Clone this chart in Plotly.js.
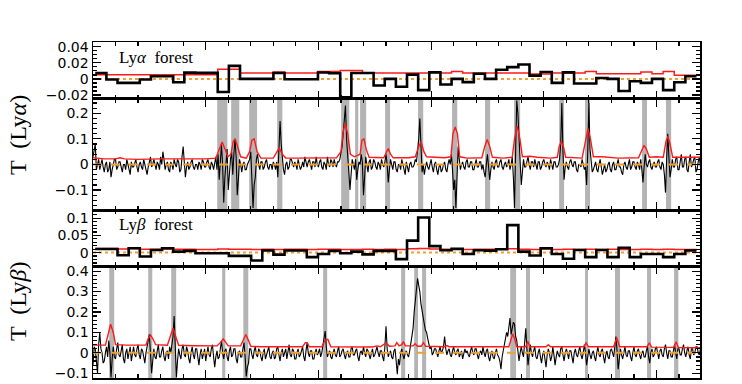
<!DOCTYPE html>
<html><head><meta charset="utf-8">
<script src="https://cdn.plot.ly/plotly-3.0.1.min.js"></script>
<style>html,body{margin:0;padding:0;background:#fff}#chart{width:742px;height:384px}</style>
</head><body><div id="chart"></div>
<script>
// ---- binned transmission (forest) panels ----
const BIN_START = 0.1, BIN_W = 0.494;
const lyaBinObs = [0.0073,-0.0008,-0.0049,-0.0049,-0.0008,0.0033,0.0033,-0.0041,0.0078,0.0075,
  0.0075,-0.0163,0.0163,0.0,0.0,0.0,0.0073,-0.0005,-0.0005,-0.0005,
  0.008,0.007,-0.023,0.0073,0.0073,-0.0082,0.0,-0.0098,0.0053,-0.0139,
  0.0082,-0.0069,0.0,-0.004,0.0065,0.0,0.0114,0.0147,0.018,0.0041,
  0.0086,-0.0049,0.0082,-0.0057,-0.0057,0.0012,0.0,-0.0151,-0.0029,-0.0049,
  0.0,-0.0139,-0.0041,0.0033];
const lyaBinModel = [0.0053,0.0053,0.0053,0.0053,0.0053,0.0053,0.0053,0.0053,0.0053,0.0053,
  0.0053,0.012,0.012,0.0073,0.0073,0.0073,0.0086,0.0073,0.0073,0.0073,
  0.0094,0.0094,0.0106,0.0106,0.0073,0.0073,0.0073,0.0073,0.0073,0.0073,
  0.008,0.0073,0.0094,0.0073,0.0073,0.0073,0.0073,0.0073,0.0073,0.006,
  0.006,0.0073,0.0073,0.0073,0.0094,0.0065,0.0065,0.0065,0.0065,0.0086,
  0.0065,0.0094,0.0045,0.0045];
const lybBinObs = [0.0106,0.0106,-0.0077,0.0125,-0.0115,0.0077,0.0125,0.003,0.005,-0.002,
  -0.002,-0.002,-0.0096,-0.0096,-0.023,0.006,-0.006,0.006,0.006,-0.013,
  -0.004,0.005,-0.002,0.003,-0.005,0.005,0.005,-0.019,0.035,0.102,
  0.019,0.007,0.011,-0.004,0.007,0.0058,0.0096,0.08,0.003,-0.0086,
  0.0125,-0.004,-0.018,0.0077,-0.013,0.0077,-0.013,0.014,-0.013,-0.004,
  -0.004,-0.013,-0.004,0.006];
const lybBinModel = [0.012,0.012,0.0105,0.012,0.01,0.01,0.0105,0.0095,0.0095,0.009,
  0.009,0.0105,0.01,0.0095,0.009,0.0095,0.009,0.0095,0.0095,0.009,
  0.0095,0.01,0.009,0.009,0.0095,0.009,0.0095,0.009,0.011,0.012,
  0.0105,0.0095,0.01,0.009,0.0095,0.0095,0.0105,0.0115,0.0095,0.009,
  0.0105,0.009,0.0095,0.009,0.0095,0.009,0.0095,0.009,0.009,0.0095,
  0.009,0.0095,0.009,0.009];

// ---- pixel transmission panels (sampling step 0.05) ----
const PIX_STEP = 0.05;
const lyaT = [
 0.03,0.06,0.08,-0.02,0.01,0.02,-0.02,0.0,0.02,-0.01,-0.03,0.0,0.01,-0.03,-0.02,0.01,-0.05,-0.02,0.0,0.02,
 0.02,-0.02,-0.01,0.01,0.01,-0.01,-0.03,0.0,0.0,-0.02,0.02,0.0,-0.02,-0.04,0.01,-0.01,-0.01,0.01,0.02,-0.01,
 -0.03,0.0,0.01,-0.01,-0.02,0.02,0.0,-0.03,-0.04,-0.01,0.01,0.03,-0.01,0.0,0.02,-0.01,-0.02,0.01,0.0,-0.02,
 0.03,0.0,0.05,0.02,-0.02,0.0,0.01,-0.02,-0.03,0.01,0.0,-0.02,0.02,0.0,-0.01,0.02,0.01,-0.03,-0.02,0.03,
 0.07,0.01,-0.05,-0.01,0.01,-0.02,-0.01,0.01,0.02,-0.01,-0.02,0.0,0.0,-0.02,0.01,0.0,-0.02,0.02,0.01,-0.01,
 -0.01,0.01,0.02,-0.01,-0.02,0.01,0.0,-0.02,0.01,0.03,-0.02,0.04,-0.06,0.02,0.08,0.0,-0.15,-0.05,0.03,0.06,
 -0.1,-0.02,0.02,0.05,-0.04,0.04,0.1,0.03,-0.12,-0.06,0.02,0.0,-0.03,0.0,0.01,-0.02,-0.02,0.0,0.01,0.02,
 0.05,-0.05,-0.17,-0.08,-0.05,0.02,0.04,0.0,-0.02,0.01,0.01,-0.02,-0.01,0.01,0.02,-0.01,-0.02,0.0,0.0,-0.02,
 0.01,0.0,-0.02,0.01,-0.05,0.06,0.17,0.08,0.02,-0.02,-0.04,0.0,0.01,-0.02,-0.01,0.02,0.02,0.0,-0.01,0.01,
 0.0,-0.02,0.02,0.0,-0.02,-0.01,0.01,-0.01,0.03,0.01,-0.01,0.01,0.02,0.0,-0.02,0.01,0.01,-0.01,0.03,0.0,
 -0.01,0.01,0.02,-0.01,-0.02,0.01,0.0,-0.02,0.03,0.0,-0.01,0.02,0.01,-0.01,0.02,0.0,-0.01,0.01,0.01,0.02,
 0.04,0.07,0.12,0.18,0.23,0.1,0.05,-0.03,-0.1,-0.04,0.02,0.0,-0.02,0.02,-0.06,-0.02,0.01,0.0,0.04,0.01,
 -0.12,-0.05,0.03,0.0,-0.03,0.01,0.02,-0.02,-0.01,0.02,0.01,-0.01,-0.02,0.01,0.0,-0.02,0.02,0.0,-0.01,0.01,
 0.04,0.0,-0.07,-0.02,0.02,0.0,-0.02,0.01,0.01,-0.02,-0.03,0.0,0.0,-0.02,0.02,0.0,-0.02,-0.04,0.01,-0.01,
 -0.03,0.0,0.01,-0.01,-0.01,0.0,0.02,0.01,0.05,0.1,0.18,0.06,-0.03,0.0,-0.04,-0.01,0.01,-0.01,-0.02,0.0,
 0.02,-0.01,-0.03,0.0,0.01,-0.02,-0.04,-0.01,0.0,-0.03,-0.02,0.0,0.01,-0.02,-0.03,0.0,0.02,0.0,0.04,-0.02,
 -0.1,-0.06,-0.17,-0.05,0.07,0.02,-0.02,0.0,0.01,-0.01,-0.02,0.01,0.02,-0.01,-0.01,0.01,0.01,-0.02,-0.02,0.0,
 0.02,-0.01,-0.01,0.01,0.01,-0.02,0.0,-0.03,-0.05,0.0,0.04,-0.01,-0.06,-0.02,0.01,-0.01,-0.02,0.01,0.02,-0.01,
 -0.01,0.01,0.02,-0.01,-0.02,0.0,0.01,-0.01,0.0,0.02,-0.02,0.0,0.03,-0.05,-0.17,0.05,0.25,0.2,0.1,0.0,
 -0.08,-0.03,0.02,-0.01,-0.01,0.01,0.03,0.0,-0.02,0.01,0.01,-0.01,0.02,0.0,-0.02,0.01,0.01,-0.02,-0.01,0.01,
 0.02,0.0,-0.01,0.01,0.0,-0.02,0.02,0.0,-0.02,0.01,0.01,-0.01,-0.01,0.0,0.02,0.08,0.24,0.05,-0.06,-0.01,
 0.01,-0.01,-0.02,0.01,0.02,0.0,-0.01,0.01,0.01,-0.02,-0.03,0.0,0.0,-0.01,0.02,0.0,-0.02,-0.01,-0.08,0.05,
 0.24,0.06,0.0,-0.03,-0.02,0.0,0.01,-0.02,-0.03,0.0,0.02,-0.01,-0.04,-0.02,0.0,-0.03,-0.02,0.0,0.01,-0.02,
 -0.03,0.0,0.01,-0.02,-0.02,0.0,0.02,-0.01,-0.01,-0.03,-0.04,0.0,0.01,-0.01,-0.02,0.0,0.02,-0.02,-0.01,0.01,
 0.01,-0.01,-0.02,0.01,0.0,-0.02,0.02,-0.02,-0.07,-0.01,0.04,0.0,-0.01,0.01,0.02,-0.01,-0.02,0.0,0.01,-0.01,
 -0.01,0.01,0.02,-0.01,-0.02,0.01,0.0,-0.04,-0.11,0.02,0.12,0.03,-0.05,-0.02,0.02,-0.01,-0.01,0.02,0.03,-0.02,
 -0.02,0.01,0.04,-0.01,-0.01,0.02,0.03,-0.02,-0.03,0.01,0.04,-0.01,0.0,0.02,0.03,-0.03,-0.02,0.01,0.03,-0.01];
const lybT = [
 -0.06,0.03,0.02,-0.04,-0.1,0.04,0.1,0.02,0.0,-0.05,-0.04,0.0,0.03,-0.02,0.06,0.0,-0.12,-0.03,0.03,-0.02,
 -0.03,0.02,0.05,-0.01,-0.02,0.01,0.04,-0.03,-0.05,0.0,0.02,-0.03,0.0,0.03,-0.04,0.0,0.03,-0.01,-0.02,0.02,
 0.04,-0.01,-0.03,0.02,0.01,-0.02,-0.05,0.0,0.03,0.05,0.09,0.0,-0.1,-0.04,0.02,-0.02,-0.03,0.01,0.04,-0.02,
 -0.02,0.01,0.03,-0.02,-0.04,0.0,0.01,-0.03,0.03,0.0,0.04,0.08,0.18,0.05,-0.12,-0.04,0.02,-0.01,-0.03,0.02,
 0.04,-0.01,-0.02,0.03,0.01,-0.03,-0.05,0.0,0.03,-0.01,-0.03,0.02,0.02,-0.02,-0.06,-0.01,0.02,-0.03,0.0,0.02,
 -0.04,0.0,0.03,-0.01,-0.02,0.02,0.04,-0.02,-0.07,-0.02,0.01,-0.03,-0.02,0.02,0.06,0.0,-0.03,0.01,0.02,-0.02,
 -0.04,0.01,0.03,-0.02,-0.01,0.02,0.02,-0.03,-0.05,0.0,0.01,-0.02,-0.02,0.02,0.05,-0.02,-0.115,-0.07,-0.05,0.02,
 0.02,-0.01,-0.03,0.01,0.03,-0.01,-0.02,0.02,0.01,-0.02,-0.04,0.0,0.02,-0.03,-0.01,0.02,0.03,-0.02,-0.03,0.0,
 0.01,-0.03,-0.02,0.02,0.03,-0.01,-0.04,0.0,0.02,-0.02,0.0,0.02,-0.03,0.0,0.04,-0.01,-0.02,0.02,0.01,-0.03,
 -0.03,0.0,0.02,-0.02,-0.01,0.01,0.03,-0.02,-0.04,0.01,0.05,0.0,-0.02,0.01,0.01,-0.03,-0.03,0.0,0.02,-0.01,
 0.0,0.02,-0.02,0.0,0.03,0.06,0.107,0.03,-0.02,0.0,0.01,-0.02,-0.03,0.0,0.02,-0.01,-0.02,0.01,0.03,-0.02,
 -0.01,0.01,0.02,-0.01,-0.03,0.0,0.01,-0.02,-0.02,0.02,0.03,-0.01,-0.01,0.01,0.02,-0.02,-0.04,0.0,0.01,-0.01,
 0.03,0.0,-0.02,0.02,0.01,-0.01,-0.03,0.0,0.02,-0.02,-0.01,0.01,0.03,0.0,-0.02,0.01,0.01,-0.02,-0.04,0.03,
 0.13,0.02,-0.02,0.0,0.01,-0.02,-0.03,0.01,0.02,-0.04,-0.105,-0.03,-0.06,0.0,0.02,-0.01,-0.03,0.0,0.01,-0.01,
 -0.02,0.01,0.04,0.08,0.12,0.2,0.25,0.32,0.365,0.33,0.3,0.24,0.2,0.16,0.14,0.11,0.1,0.07,0.05,0.02,
 0.03,-0.01,0.0,0.02,0.02,-0.01,-0.02,0.01,0.03,0.0,0.01,0.03,0.08,0.02,-0.01,0.01,0.02,-0.01,-0.02,0.01,
 0.03,0.0,-0.01,0.01,0.02,-0.02,0.0,0.01,-0.03,-0.01,0.02,0.0,0.01,-0.01,-0.02,0.01,0.03,0.0,-0.01,0.02,
 0.02,-0.01,-0.03,0.0,0.01,-0.01,0.03,0.0,-0.02,0.01,0.02,-0.02,-0.04,-0.01,0.01,-0.02,-0.03,0.0,0.02,-0.01,
 -0.02,-0.04,-0.08,-0.02,0.01,0.03,0.05,0.1,0.08,0.12,0.17,0.09,0.12,0.15,0.14,0.08,0.06,0.01,-0.04,0.0,
 0.03,0.0,-0.02,0.05,0.12,0.02,-0.06,-0.01,0.04,0.0,-0.02,0.01,0.03,-0.02,-0.03,0.0,0.02,-0.02,-0.05,-0.01,
 0.01,-0.03,-0.07,-0.01,0.02,0.0,-0.04,-0.02,0.03,-0.01,-0.06,-0.02,0.01,-0.01,-0.02,0.02,0.03,-0.01,-0.04,0.0,
 0.02,0.0,-0.03,0.01,0.01,-0.02,-0.05,0.0,0.02,-0.01,-0.02,0.01,0.03,-0.01,-0.03,0.0,0.04,0.0,-0.06,-0.02,
 0.02,-0.01,-0.03,0.0,0.01,-0.02,-0.04,0.0,0.03,-0.01,-0.02,0.01,0.02,-0.02,-0.05,-0.01,0.01,-0.02,-0.03,0.01,
 0.02,0.0,-0.02,0.03,0.08,0.01,-0.08,-0.03,0.02,-0.01,-0.03,0.0,0.03,-0.01,-0.02,0.01,0.01,-0.02,-0.04,0.0,
 0.03,-0.01,-0.02,0.01,0.02,-0.01,-0.03,0.0,0.01,-0.02,-0.02,0.01,0.03,-0.02,-0.05,0.0,0.02,-0.02,-0.01,0.02,
 0.03,0.0,-0.03,0.01,0.02,-0.01,-0.02,0.02,0.04,0.0,-0.03,0.01,0.01,-0.02,-0.02,0.01,0.04,0.0,-0.03,0.02,
 0.02,-0.01,-0.01,0.02,0.04,0.0,-0.02,0.01,0.03,-0.01,-0.03,0.02,0.02,-0.01,0.0,0.03,0.03,0.0,-0.01,0.02];

// ---- model (red) curves ----
const lyaModelX = [0,0.5,1.0,1.2,1.4,2.0,3.0,4.0,5.0,5.45,5.6,5.73,5.86,5.98,6.12,6.22,6.31,6.42,6.55,6.8,6.95,7.05,7.15,7.28,7.45,8.0,8.12,8.26,8.4,8.55,9.0,10.0,10.8,11.0,11.1,11.19,11.3,11.42,11.6,11.85,11.93,12.02,12.12,12.25,12.9,13.0,13.1,13.2,13.32,14.0,14.3,14.45,14.56,14.68,14.8,15.6,15.88,15.97,16.07,16.17,16.27,16.6,17.25,17.38,17.49,17.6,17.72,18.2,18.6,18.7,18.82,18.94,19.05,19.4,19.7,20.3,20.6,20.68,20.77,20.87,20.97,21.7,21.85,21.96,22.07,22.2,22.6,23.3,24.2,24.35,24.45,24.55,24.68,25.0,25.3,25.42,25.51,25.6,25.72,26.93];
const lyaModelY = [0.026,0.022,0.022,0.026,0.022,0.02,0.022,0.021,0.022,0.025,0.06,0.088,0.06,0.03,0.04,0.09,0.1,0.07,0.03,0.025,0.05,0.095,0.1,0.05,0.025,0.025,0.045,0.065,0.04,0.025,0.025,0.025,0.026,0.05,0.13,0.16,0.12,0.04,0.03,0.04,0.095,0.1,0.06,0.028,0.026,0.045,0.062,0.04,0.026,0.026,0.03,0.07,0.088,0.05,0.03,0.026,0.03,0.12,0.147,0.12,0.03,0.025,0.026,0.07,0.098,0.07,0.028,0.025,0.028,0.1,0.15,0.1,0.03,0.032,0.028,0.025,0.028,0.07,0.09,0.07,0.028,0.025,0.1,0.14,0.1,0.03,0.03,0.025,0.026,0.06,0.075,0.06,0.028,0.03,0.028,0.09,0.11,0.08,0.028,0.028];
const lybModelX = [0,0.55,0.65,0.78,0.9,1.0,1.5,2.35,2.45,2.55,2.65,2.78,3.3,3.42,3.55,3.67,3.8,4.5,5.5,5.65,5.78,5.9,6.0,6.55,6.68,6.78,6.9,7.0,7.5,9.3,9.42,9.5,9.6,10.15,10.3,10.42,10.55,12.4,12.6,12.75,12.95,13.04,13.15,13.4,13.48,13.58,13.7,13.77,13.86,14.2,14.29,14.4,14.56,14.66,14.76,15.6,15.7,15.8,18.45,18.55,18.62,18.7,18.8,19.2,19.29,19.38,20.1,20.2,20.3,21.78,21.88,21.98,23.1,23.24,23.36,24.58,24.68,24.78,25.77,25.87,25.97,26.93];
const lybModelY = [0.038,0.038,0.08,0.14,0.1,0.04,0.038,0.038,0.07,0.087,0.07,0.04,0.037,0.08,0.12,0.08,0.037,0.035,0.034,0.05,0.068,0.05,0.034,0.034,0.07,0.09,0.06,0.032,0.03,0.03,0.05,0.05,0.03,0.03,0.062,0.066,0.03,0.029,0.034,0.03,0.045,0.045,0.032,0.034,0.05,0.034,0.04,0.055,0.034,0.034,0.045,0.032,0.032,0.05,0.032,0.03,0.036,0.03,0.03,0.07,0.093,0.07,0.03,0.03,0.057,0.03,0.03,0.04,0.03,0.03,0.049,0.03,0.03,0.074,0.03,0.03,0.049,0.028,0.027,0.054,0.026,0.025];

// ---- absorber positions (grey bands) ----
const lyaLines = [[5.51,5.96],[6.13,6.49],[6.93,7.28],[8.17,8.40],[11.01,11.37],[11.63,11.77],[11.85,12.12],[12.96,13.18],[14.42,14.65],[15.93,16.16],[17.39,17.62],[18.68,18.95],[20.68,20.90],[21.83,22.05],[24.36,24.58],[25.42,25.65]];
const lybLines = [[0.72,0.94],[2.45,2.63],[3.47,3.69],[5.73,5.87],[6.67,6.89],[10.21,10.39],[13.67,13.85],[14.25,14.42],[14.60,14.78],[18.51,18.77],[19.21,19.39],[21.83,21.96],[23.16,23.38],[24.58,24.76],[25.78,25.97]];

const XR = [0, 26.93];
function stepXY(vals){
  const xs=[], ys=[];
  vals.forEach((v,i)=>{ xs.push(Math.max(0,BIN_START+i*BIN_W)); ys.push(v); });
  xs.push(BIN_START+vals.length*BIN_W); ys.push(vals[vals.length-1]);
  return {x:xs,y:ys};
}
function pixX(arr){ return arr.map((_,i)=>i*PIX_STEP); }

const ORANGE='#f0a030', RED='#ff1a1a';
const traces=[];
function zeroLine(xa,ya,dash){ traces.push({x:XR,y:[0,0],xaxis:xa,yaxis:ya,mode:'lines',line:{color:ORANGE,width:2,dash:dash},hoverinfo:'skip'}); }
// panel 1
zeroLine('x','y','dot');
let s=stepXY(lyaBinModel); traces.push({x:s.x,y:s.y,xaxis:'x',yaxis:'y',mode:'lines',line:{color:RED,width:1.5,shape:'hv'}});
s=stepXY(lyaBinObs); traces.push({x:s.x,y:s.y,xaxis:'x',yaxis:'y',mode:'lines',line:{color:'#000',width:2.6,shape:'hv'}});
// panel 2
traces.push({x:pixX(lyaT),y:lyaT,xaxis:'x2',yaxis:'y2',mode:'lines',line:{color:'#000',width:1.1}});
zeroLine('x2','y2','dash');
traces.push({x:lyaModelX,y:lyaModelY,xaxis:'x2',yaxis:'y2',mode:'lines',line:{color:RED,width:1.4}});
// panel 3
zeroLine('x3','y3','dot');
s=stepXY(lybBinModel); traces.push({x:s.x,y:s.y,xaxis:'x3',yaxis:'y3',mode:'lines',line:{color:RED,width:1.5,shape:'hv'}});
s=stepXY(lybBinObs); traces.push({x:s.x,y:s.y,xaxis:'x3',yaxis:'y3',mode:'lines',line:{color:'#000',width:2.6,shape:'hv'}});
// panel 4
traces.push({x:pixX(lybT),y:lybT,xaxis:'x4',yaxis:'y4',mode:'lines',line:{color:'#000',width:1.1}});
zeroLine('x4','y4','dash');
traces.push({x:lybModelX,y:lybModelY,xaxis:'x4',yaxis:'y4',mode:'lines',line:{color:RED,width:1.4}});

const shapes=[];
lyaLines.forEach(b=>shapes.push({type:'rect',xref:'x2',yref:'y2 domain',x0:b[0],x1:b[1],y0:0,y1:1,fillcolor:'#b4b4b4',line:{width:0},layer:'below'}));
lybLines.forEach(b=>shapes.push({type:'rect',xref:'x4',yref:'y4 domain',x0:b[0],x1:b[1],y0:0,y1:1,fillcolor:'#b4b4b4',line:{width:0},layer:'below'}));

const TF={family:'DejaVu Sans',size:14,color:'#000'};
function xax(anchor){ return {anchor:anchor,range:XR,showline:true,linecolor:'#000',linewidth:1.5,mirror:'ticks',ticks:'inside',ticklen:8,tickwidth:1.2,tickcolor:'#000',tick0:0,dtick:5,minor:{dtick:1,ticklen:4,ticks:'inside',tickwidth:1.2,tickcolor:'#000'},showticklabels:false,showgrid:false,zeroline:false}; }
function yax(anchor,dom,range,dt,mdt){ return {anchor:anchor,domain:dom,range:range,showline:true,linecolor:'#000',linewidth:1.5,mirror:'ticks',ticks:'inside',ticklen:8,tickwidth:1.2,tickcolor:'#000',dtick:dt,tick0:0,minor:{dtick:mdt,ticklen:4,ticks:'inside',tickwidth:1.2,tickcolor:'#000'},tickfont:TF,showgrid:false,zeroline:false}; }

const layout={
  width:742,height:384,margin:{l:93,r:42,t:42,b:6},paper_bgcolor:'#fff',plot_bgcolor:'#fff',showlegend:false,
  xaxis:xax('y'),xaxis2:xax('y2'),xaxis3:xax('y3'),xaxis4:xax('y4'),
  yaxis:yax('x',[0.8304,1],[-0.025,0.046],0.02,0.005),
  yaxis2:yax('x2',[0.5,0.8304],[-0.178,0.256],0.1,0.02),
  yaxis3:yax('x3',[0.3333,0.5],[-0.039,0.124],0.05,0.01),
  yaxis4:yax('x4',[0,0.3333],[-0.123,0.425],0.1,0.02),
  shapes:shapes,
  annotations:[
    {xref:'paper',yref:'paper',x:-0.1236,y:0.723,text:'T  (Ly<i>α</i>)',textangle:-90,showarrow:false,xanchor:'center',yanchor:'middle',font:{family:'Liberation Serif',size:24,color:'#000'}},
    {xref:'paper',yref:'paper',x:-0.1236,y:0.229,text:'T  (Ly<i>β</i>)',textangle:-90,showarrow:false,xanchor:'center',yanchor:'middle',font:{family:'Liberation Serif',size:24,color:'#000'}},
    {xref:'paper',yref:'paper',x:0.0395,y:0.955,text:'Ly<i>α</i>&nbsp;&nbsp;forest',showarrow:false,xanchor:'left',yanchor:'middle',font:{family:'Liberation Serif',size:17,color:'#000'}},
    {xref:'paper',yref:'paper',x:0.0395,y:0.458,text:'Ly<i>β</i>&nbsp;&nbsp;forest',showarrow:false,xanchor:'left',yanchor:'middle',font:{family:'Liberation Serif',size:17,color:'#000'}}
  ]
};
Plotly.newPlot('chart',traces,layout,{staticPlot:true,displayModeBar:false});
</script></body></html>
